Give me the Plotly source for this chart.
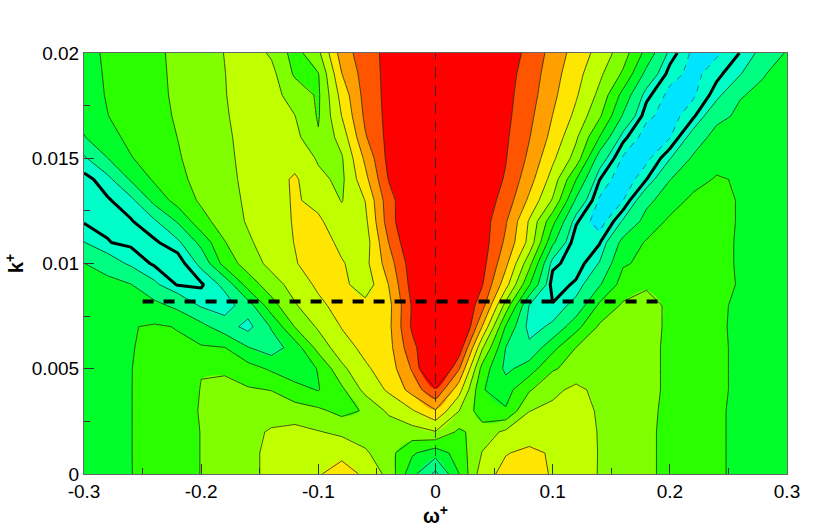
import plotly.graph_objects as go

omega = [-0.30, -0.28, -0.26, -0.24, -0.22, -0.20, -0.18, -0.16, -0.14, -0.12, -0.10,
         -0.08, -0.06, -0.04, -0.02, 0.00, 0.02, 0.04, 0.06, 0.08, 0.10,
         0.12, 0.14, 0.16, 0.18, 0.20, 0.22, 0.24, 0.26, 0.28, 0.30]
wavenumber = [0.000, 0.001, 0.002, 0.003, 0.004, 0.005, 0.006, 0.007, 0.008, 0.009,
              0.010, 0.011, 0.012, 0.013, 0.014, 0.015, 0.016, 0.017, 0.018, 0.019, 0.020]

k000 = [3.85,3.95,3.98,4.3,4.65,5.02,5.35,5.8,6.2,6.6,6.9,7.5,6.8,5.7,3.3,1.75,3.98,6.6,7.3,7.45,6.9,6.45,5.95,5.65,5.15,4.8,4.5,4.1,3.85,3.7,3.65]
k001 = [3.85,3.95,3.98,4.35,4.65,5.02,5.35,5.8,6.2,6.5,6.8,6.7,6.15,5.35,4.15,3.4,4.45,6.05,6.95,7.2,6.9,6.55,5.95,5.65,5.15,4.8,4.5,4.1,3.85,3.7,3.65]
k002 = [3.85,3.95,3.98,4.35,4.65,5.02,5.35,5.75,6.1,6.3,6.05,5.8,5.5,5.3,5.6,5.95,4.8,5.5,6.2,6.55,6.6,6.4,5.95,5.65,5.15,4.8,4.5,4.1,3.85,3.7,3.65]
k003 = [3.85,3.95,3.98,4.35,4.7,5.05,5.3,5.5,5.6,5.45,5.2,4.7,5.1,6.2,6.9,7.9,6.02,4.4,4.1,5.98,6.25,6.35,5.9,5.7,5.2,4.8,4.5,4.1,3.85,3.7,3.65]
k004 = [3.85,3.95,3.98,4.35,4.7,5.02,5.2,5.1,4.97,4.35,3.95,4.8,6.3,7.15,8.35,9.9,7.4,4.05,3.6,4.9,5.75,6.25,5.7,5.6,5.3,4.8,4.5,4.15,3.85,3.7,3.65]
k005 = [3.85,3.95,3.98,4.3,4.6,4.98,4.9,4.4,3.85,3.4,4.05,5.75,6.85,7.45,9.1,12,9.1,4.6,2.75,3.5,4.9,5.35,5.65,5.75,5.3,4.8,4.5,4.15,3.85,3.7,3.65]
k006 = [3.85,3.95,3.98,4.1,4.15,4.1,4.03,3.05,2.5,3.45,5.35,6.6,7.25,7.65,9.7,11.2,10.7,6.1,2.98,2.2,3.7,5.02,5.5,5.6,5.3,4.8,4.5,4.15,3.85,3.7,3.65]
k007 = [3.8,3.9,3.95,4.1,3.96,3.3,2.45,1.7,3.1,5.05,6.15,7.05,7.5,7.75,10.15,10.7,12,7.95,3.9,1.7,2.15,3.65,5.15,5.35,5.3,4.85,4.55,4.12,3.85,3.7,3.65]
k008 = [3.75,3.75,3.6,3.3,2.75,1.9,1.6,2.5,4.6,5.9,6.75,7.4,7.35,7.7,10.1,10.8,11.3,9.4,5.6,1.95,1.55,2.3,4.2,5.15,5.4,4.8,4.5,4.15,3.85,3.7,3.65]
k009 = [3.6,3.4,3.03,2.15,1.45,1.42,2.2,4.45,5.55,6.4,7.2,7.3,6.4,8.02,10.4,11,10.7,10.05,7.4,4.1,1.2,1.6,2.9,4.4,4.85,4.75,4.65,4.4,3.9,3.7,3.65]
k010 = [3.02,2.45,1.85,1.42,1.2,2.2,4.4,5.45,6.3,6.93,7.5,7.05,6.7,8.5,10.55,11.1,10.9,10.35,8.25,5.35,1.65,1.2,2.05,3.9,4.2,4.45,4.5,4.4,3.85,3.7,3.7]
k011 = [2.02,1.52,1.4,1.42,1.8,3.3,4.95,5.85,6.5,7.03,7.3,6.85,6.5,9.0,11,11.3,11,10.5,8.8,6.7,3.2,1.05,1.45,3.3,4.1,4.35,4.45,4.4,3.85,3.7,3.75]
k012 = [1.45,1.42,1.46,1.85,3.1,4.66,5.45,6.1,6.55,7.08,7.15,6.45,6.75,9.5,11.2,11.4,11,10.5,9.1,6.9,4.3,1.6,0.6,2.1,3.35,4.2,4.4,4.4,3.9,3.8,3.8]
k013 = [1.3,1.45,1.75,3.3,4.4,5.15,5.65,6.15,6.6,7.1,6.75,5.95,7.02,9.6,11,11.5,11.2,10.6,9.6,7.8,5.9,2.85,0.9,0.98,2.75,3.5,4.25,4.4,3.9,3.8,3.8]
k014 = [1.35,1.72,3.12,4.15,4.77,5.3,5.75,6.2,6.55,7.15,6.2,5.8,7.7,10.05,11,11.7,11.3,10.7,9.9,8.4,6.6,4.02,1.52,0.5,1.48,2.97,3.6,4.1,3.9,3.8,3.8]
k015 = [1.85,2.98,3.95,4.4,4.92,5.38,5.8,6.25,6.5,6.6,5.9,5.9,8.2,10.3,11,11.6,11.2,10.6,10.05,8.8,7.2,5.6,2.5,0.9,0.8,1.95,3.15,3.6,3.7,3.8,3.8]
k016 = [2.95,3.7,4.22,4.61,5.01,5.43,5.87,6.25,6.4,6.3,5.1,6.4,8.9,10.3,11,11.6,11.2,10.5,10.15,9.05,7.7,6.15,3.98,1.7,0.65,0.95,2.39,3.4,3.65,3.75,3.8]
k017 = [3.3,3.98,4.35,4.7,5.1,5.5,5.92,6.32,6.35,6.02,4.9,7.02,9.2,10.3,11,11.6,11.1,10.6,10.25,9.25,7.98,6.75,5.15,2.9,1.15,0.7,1.4,2.7,3.2,3.5,3.65]
k018 = [3.6,4.06,4.42,4.77,5.15,5.56,5.96,6.4,6.3,5.64,4.85,7.37,9.36,10.3,11,11.6,11,10.7,10.3,9.44,8.23,7.11,5.75,3.67,1.68,0.8,0.9,1.77,2.94,3.2,3.5]
k019 = [3.65,4.1,4.45,4.8,5.17,5.58,5.98,6.45,6.3,4.85,4.95,7.98,9.45,10.3,11,11.5,11,10.7,10.35,9.6,8.4,7.35,6.2,4.85,2.7,1.25,0.8,1.35,1.95,2.95,3.4]
k020 = [3.7,4.14,4.48,4.82,5.2,5.6,6.02,6.5,5.86,4.6,5.77,8.5,9.54,10.3,11,11.5,11,10.7,10.4,9.8,8.6,7.6,6.64,5.48,3.67,1.8,0.85,0.9,1.52,2.26,3.1]
spectrum = [k000, k001, k002, k003, k004, k005, k006, k007, k008, k009, k010, k011, k012,
            k013, k014, k015, k016, k017, k018, k019, k020]

band_colors = ["#00E5FF", "#00FFC8", "#00FF80", "#00FF2A", "#2AFF00", "#7FFF00",
               "#BFFF00", "#FFE600", "#FFA000", "#FF5500", "#FF0000"]

x_ticks = [-0.3, -0.2, -0.1, 0, 0.1, 0.2, 0.3]
x_labels = ["-0.3", "-0.2", "-0.1", "0", "0.1", "0.2", "0.3"]
y_ticks = [0, 0.005, 0.01, 0.015, 0.02]
y_labels = ["0", "0.005", "0.01", "0.015", "0.02"]
x_minor = [-0.25, -0.15, -0.05, 0.05, 0.15, 0.25]
y_minor = [0.0025, 0.0075, 0.0125, 0.0175]

center_x = [0, 0]
center_y = [0, 0.02]
peak_x = [-0.25, 0.19]
peak_y = [0.0082, 0.0082]

n = len(band_colors)
scale = []
for i, c in enumerate(band_colors):
    scale += [[i / n, c], [(i + 1) / n, c]]

fig = go.Figure()
fig.add_trace(go.Contour(x=omega, y=wavenumber, z=spectrum, zmin=0, zmax=n, colorscale=scale,
                         showscale=False, hoverinfo="skip", line=dict(width=0),
                         contours=dict(start=1, end=10, size=1, coloring="fill")))
fig.add_trace(go.Contour(x=omega, y=wavenumber, z=spectrum, showscale=False, hoverinfo="skip",
                         contours=dict(start=2, end=10, size=1, coloring="none"),
                         line=dict(color="#1a2a10", width=0.8, smoothing=0)))
fig.add_trace(go.Contour(x=omega, y=wavenumber, z=spectrum, showscale=False, hoverinfo="skip",
                         contours=dict(start=1, end=1, size=1, coloring="none"),
                         line=dict(color="#106070", width=0.8, dash="6px,6px", smoothing=0)))
fig.add_trace(go.Contour(x=omega, y=wavenumber, z=spectrum, showscale=False, hoverinfo="skip",
                         contours=dict(start=1.5, end=1.5, size=1, coloring="none"),
                         line=dict(color="black", width=3, smoothing=0)))
fig.add_trace(go.Scatter(x=center_x, y=center_y, mode="lines", hoverinfo="skip", showlegend=False,
                         line=dict(color="#222222", width=0.8, dash="11px,7px")))
fig.add_trace(go.Scatter(x=peak_x, y=peak_y, mode="lines", hoverinfo="skip", showlegend=False,
                         line=dict(color="black", width=4, dash="11px,10px")))

axis_common = dict(showgrid=False, zeroline=False, showline=True, mirror=True,
                   linecolor="#666666", linewidth=1, ticks="inside", ticklen=10,
                   tickcolor="#333333", tickwidth=1, tickmode="array",
                   tickfont=dict(family="Liberation Sans", size=19, color="black"))
fig.update_layout(
    width=830, height=529, margin=dict(l=84, r=43, t=53, b=55),
    paper_bgcolor="white", plot_bgcolor="white", showlegend=False,
    xaxis=dict(range=[-0.3, 0.3], tickvals=x_ticks, ticktext=x_labels,
               minor=dict(ticks="inside", ticklen=6, tickcolor="#333333", tickmode="array",
                          tickvals=x_minor, showgrid=False),
               title=dict(text="ω<sup>+</sup>", standoff=0,
                          font=dict(family="Liberation Sans", size=20, color="black", weight="bold")),
               **axis_common),
    yaxis=dict(range=[0, 0.02], tickvals=y_ticks, ticktext=y_labels,
               minor=dict(ticks="inside", ticklen=6, tickcolor="#333333", tickmode="array",
                          tickvals=y_minor, showgrid=False),
               title=dict(text="k<sup>+</sup>", standoff=2,
                          font=dict(family="Liberation Sans", size=20, color="black", weight="bold")),
               **axis_common),
)
fig.write_html("out.html", config={"displayModeBar": False},
               post_script="document.body.style.margin='0';document.body.style.overflow='hidden';")
